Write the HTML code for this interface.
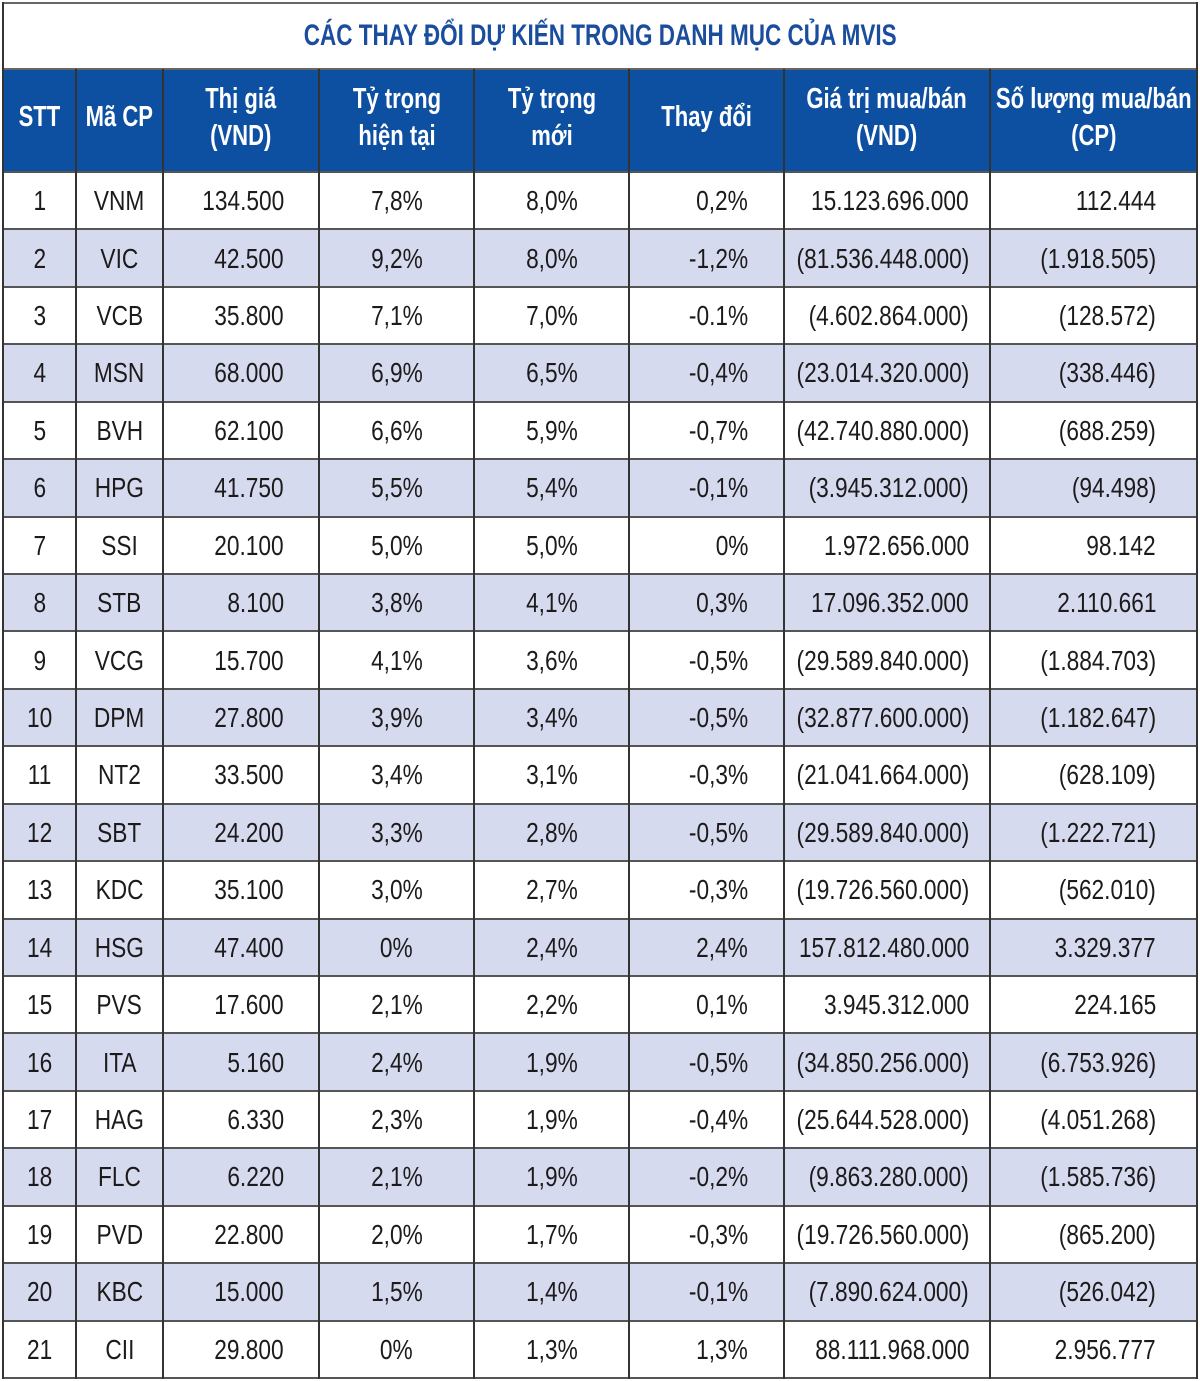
<!DOCTYPE html>
<html><head><meta charset="utf-8">
<style>
html,body{margin:0;padding:0;background:#fff;}
#wrap{position:relative;width:1200px;height:1381px;overflow:hidden;font-family:"Liberation Sans",sans-serif;}
.cell{position:absolute;box-sizing:border-box;display:flex;align-items:center;font-size:28px;color:#1d1a1b;white-space:nowrap;}
.cell span{display:inline-block;transform:scaleX(0.81);}
.hd{background:#0d4fa1;color:#fff;font-weight:bold;justify-content:center;text-align:center;line-height:37px;font-size:29px;padding-bottom:6px;}
.hd span{transform:scaleX(0.76);}
.vl{position:absolute;width:2px;background:#333;}
.hl{position:absolute;height:2px;background:#555;left:3px;width:1194px;}
</style></head>
<body>
<div id="wrap">
<div style="position:absolute;left:3px;top:3px;width:1194px;height:66px;display:flex;align-items:center;justify-content:center;color:#1a4d9e;font-weight:bold;font-size:30px;"><span style="display:inline-block;transform:scaleX(0.75);">CÁC THAY ĐỔI DỰ KIẾN TRONG DANH MỤC CỦA MVIS</span></div>
</div>
<script>
const headers=["STT","Mã CP","Thị giá<br>(VND)","Tỷ trọng<br>hiện tại","Tỷ trọng<br>mới","Thay đổi","Giá trị mua/bán<br>(VND)","Số lượng mua/bán<br>(CP)"];
const tickers=["VNM","VIC","VCB","MSN","BVH","HPG","SSI","STB","VCG","DPM","NT2","SBT","KDC","HSG","PVS","ITA","HAG","FLC","PVD","KBC","CII"];
const prices=["134.500","42.500","35.800","68.000","62.100","41.750","20.100","8.100","15.700","27.800","33.500","24.200","35.100","47.400","17.600","5.160","6.330","6.220","22.800","15.000","29.800"];
const curW=["7,8%","9,2%","7,1%","6,9%","6,6%","5,5%","5,0%","3,8%","4,1%","3,9%","3,4%","3,3%","3,0%","0%","2,1%","2,4%","2,3%","2,1%","2,0%","1,5%","0%"];
const newW=["8,0%","8,0%","7,0%","6,5%","5,9%","5,4%","5,0%","4,1%","3,6%","3,4%","3,1%","2,8%","2,7%","2,4%","2,2%","1,9%","1,9%","1,9%","1,7%","1,4%","1,3%"];
const changes=["0,2%","-1,2%","-0.1%","-0,4%","-0,7%","-0,1%","0%","0,3%","-0,5%","-0,5%","-0,3%","-0,5%","-0,3%","2,4%","0,1%","-0,5%","-0,4%","-0,2%","-0,3%","-0,1%","1,3%"];
const values=["15.123.696.000","(81.536.448.000)","(4.602.864.000)","(23.014.320.000)","(42.740.880.000)","(3.945.312.000)","1.972.656.000","17.096.352.000","(29.589.840.000)","(32.877.600.000)","(21.041.664.000)","(29.589.840.000)","(19.726.560.000)","157.812.480.000","3.945.312.000","(34.850.256.000)","(25.644.528.000)","(9.863.280.000)","(19.726.560.000)","(7.890.624.000)","88.111.968.000"];
const qty=["112.444","(1.918.505)","(128.572)","(338.446)","(688.259)","(94.498)","98.142","2.110.661","(1.884.703)","(1.182.647)","(628.109)","(1.222.721)","(562.010)","3.329.377","224.165","(6.753.926)","(4.051.268)","(1.585.736)","(865.200)","(526.042)","2.956.777"];

const W=document.getElementById('wrap');
const cols=[3,76,163,319,474,629,784,990,1197];
const align=["c","c","r","c","c","r","r","r"];
const pads=[0,0,35,0,0,36,21,41];
const colNames=["stt","ticker","price","current-weight","new-weight","change","trade-value","trade-quantity"];
const hTop=69,hBot=172,rowH=(1378-172)/21;
function mk(x,y,w,h,html,cls,name){
  const d=document.createElement('div');
  d.className='cell '+cls;
  d.style.left=x+'px';d.style.top=y+'px';d.style.width=w+'px';d.style.height=h+'px';
  d.innerHTML='<span>'+html+'</span>';
  
  
  W.appendChild(d);return d;
}
headers.forEach((t,i)=>{mk(cols[i],hTop,cols[i+1]-cols[i],hBot-hTop,t,'hd','header-'+colNames[i]);});
for(let r=0;r<21;r++){
  const y=hBot+r*rowH;
  const bg=document.createElement('div');
  bg.style.cssText='position:absolute;left:3px;width:1194px;top:'+y+'px;height:'+rowH+'px;background:'+(r%2?'#d6daef':'#fff');
  
  
  W.appendChild(bg);
  const vals=[String(r+1),tickers[r],prices[r],curW[r],newW[r],changes[r],values[r],qty[r]];
  vals.forEach((v,i)=>{
    const d=mk(cols[i],y,cols[i+1]-cols[i],rowH,v,'',colNames[i]+'-'+(r+1));
    if(align[i]=='c'){d.style.justifyContent='center';}
    else{d.style.justifyContent='flex-end';d.style.paddingRight=pads[i]+'px';d.firstChild.style.transformOrigin='right center';}
    d.style.paddingTop='1px';
  });
}
for(let r=0;r<=21;r++){
  const l=document.createElement('div');l.className='hl';
  l.style.top=(hBot+r*rowH-1)+'px';
  
  
  W.appendChild(l);
}
const top0=document.createElement('div');top0.className='hl';top0.style.top='2px';top0.style.background='#666';


W.appendChild(top0);
const hl2=document.createElement('div');hl2.className='hl';hl2.style.top=(hTop-1)+'px';hl2.style.background='#666';


W.appendChild(hl2);
cols.forEach((x,i)=>{
  const l=document.createElement('div');l.className='vl';
  const isEdge=(i==0||i==cols.length-1);
  l.style.left=(x-1)+'px';
  l.style.top=(isEdge?2:hTop)+'px';
  l.style.height=(1379-(isEdge?2:hTop))+'px';
  
  
  W.appendChild(l);
});
</script>
</body></html>
